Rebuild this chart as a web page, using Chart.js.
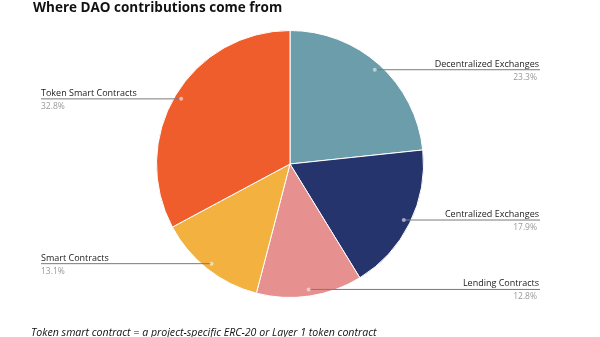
<!DOCTYPE html>
<html>
<head>
<meta charset="utf-8">
<script src="https://cdn.jsdelivr.net/npm/chart.js@4.4.1/dist/chart.umd.min.js"></script>
<style>
  html, body { margin: 0; padding: 0; background: #fff; }
  #wrap { position: relative; width: 600px; height: 337px; overflow: hidden; }
  #title { position: absolute; left: 33px; top: -2px; font: bold 13.5px "Open Sans", sans-serif; color: #111; white-space: nowrap; }
  #note { position: absolute; left: 31px; top: 325px; font: italic 10.6px "Open Sans", sans-serif; color: #111; white-space: nowrap; }
  canvas { position: absolute; left: 0; top: 0; }
</style>
</head>
<body>
<div id="wrap">
  <canvas id="pieChart" width="600" height="337"></canvas>
  <div id="title">Where DAO contributions come from</div>
  <div id="note">Token smart contract = a project-specific ERC-20 or Layer 1 token contract</div>
</div>
<script>
// slices, clockwise from 12 o'clock
const categories = ['Decentralized Exchanges', 'Centralized Exchanges', 'Lending Contracts', 'Smart Contracts', 'Token Smart Contracts'];
const shares = [23.3, 17.9, 12.8, 13.1, 32.8];
const sliceColors = ['#6B9EAA', '#26346E', '#E69090', '#F3B140', '#EE5D2B'];

// leader lines + labels, anchored on each arc's mid angle
const calloutPlugin = {
    id: 'callouts',
    afterDatasetsDraw(chart) {
        const ctx = chart.ctx;
        const arcs = chart.getDatasetMeta(0).data;
        arcs.forEach((arc, i) => {
            const mid = (arc.startAngle + arc.endAngle) / 2;
            const r = arc.outerRadius * 0.95;
            const x = arc.x + Math.cos(mid) * r;
            const y = arc.y + Math.sin(mid) * r;
            const right = Math.cos(mid) >= 0 || i === 2;
            const edge = right ? 540 : 41;

            ctx.save();
            ctx.strokeStyle = '#7a7a7a';
            ctx.lineWidth = 1;
            ctx.beginPath();
            ctx.moveTo(x, y);
            ctx.lineTo(edge, y);
            ctx.stroke();

            ctx.fillStyle = 'rgba(255,255,255,0.55)';
            ctx.beginPath();
            ctx.arc(x, y, 2, 0, Math.PI * 2);
            ctx.fill();

            ctx.textAlign = right ? 'right' : 'left';
            ctx.textBaseline = 'alphabetic';
            ctx.fillStyle = '#222';
            ctx.font = '9px "Open Sans", sans-serif';
            ctx.fillText(categories[i], right ? edge - 1 : edge, y - 3);
            ctx.fillStyle = '#999';
            ctx.font = '8.5px "Open Sans", sans-serif';
            ctx.fillText(shares[i].toFixed(1) + '%', right ? edge - 3 : edge, y + 10);
            ctx.restore();
        });
    }
};

new Chart(document.getElementById('pieChart'), {
    type: 'pie',
    data: {
        labels: categories,
        datasets: [{
            data: shares,
            backgroundColor: sliceColors,
            borderColor: '#fff',
            borderWidth: 1
        }]
    },
    options: {
        responsive: false,
        animation: false,
        layout: { padding: { left: 156, right: 176, top: 30, bottom: 39 } },
        plugins: {
            legend: { display: false },
            tooltip: { enabled: false }
        }
    },
    plugins: [calloutPlugin]
});
</script>
</body>
</html>
